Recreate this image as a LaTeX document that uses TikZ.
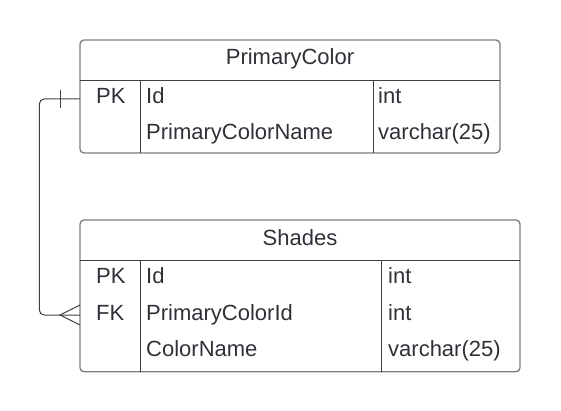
\documentclass[tikz,border=0pt]{standalone}
\usepackage{fontspec}
\setmainfont{Liberation Sans}
\definecolor{txt}{HTML}{2E3238}
\definecolor{frame}{HTML}{7A7C80}
\definecolor{inner}{HTML}{3C4148}
\tikzset{
  tablebox/.style={draw=frame, line width=1.3pt, rounded corners=4pt},
  innerline/.style={draw=inner, line width=1pt},
  cell/.style={anchor=base west, inner sep=0pt, text=txt, font=\fontsize{22}{26}\selectfont},
  title/.style={anchor=base, inner sep=0pt, text=txt, font=\fontsize{22}{26}\selectfont},
  rel/.style={draw=inner, line width=1pt},
}
\begin{document}
\begin{tikzpicture}[x=1pt,y=-1pt]
\useasboundingbox (0,0) rectangle (561,411);
% ---- Table PrimaryColor
\draw[tablebox] (80,40) rectangle (500,153);
\draw[innerline] (80,80.7) -- (500,80.7);
\draw[innerline] (140.7,80.7) -- (140.7,153);
\draw[innerline] (373,80.7) -- (373,153);
\node[title] (t1) at (290,65) {PrimaryColor};
\node[cell] (t1pk) at (96,103.3) {PK};
\node[cell] (t1id) at (146,103.3) {Id};
\node[cell] (t1idt) at (378,103.3) {int};
\node[cell] (t1name) at (146,140) {PrimaryColorName};
\node[cell] (t1namet) at (378,140) {varchar(25)};
% ---- Table Shades
\draw[tablebox] (80,220) rectangle (520,371.7);
\draw[innerline] (80,260.7) -- (520,260.7);
\draw[innerline] (140.7,260.7) -- (140.7,371.7);
\draw[innerline] (381.7,260.7) -- (381.7,371.7);
\node[title] (t2) at (300,245) {Shades};
\node[cell] (t2pk) at (96,283.3) {PK};
\node[cell] (t2id) at (146,283.3) {Id};
\node[cell] (t2idt) at (388,283.3) {int};
\node[cell] (t2fk) at (96,320) {FK};
\node[cell] (t2fkn) at (146,320) {PrimaryColorId};
\node[cell] (t2fkt) at (388,320) {int};
\node[cell] (t2cn) at (146,356.7) {ColorName};
\node[cell] (t2cnt) at (388,356.7) {varchar(25)};
% ---- Relationship
\coordinate (a) at (80,99);
\coordinate (b) at (80,315);
\coordinate (bu) at (80,305);
\coordinate (bd) at (80,325);
\coordinate (apex) at (60,315);
\coordinate (tk1) at (60,90);
\coordinate (tk2) at (60,108.3);
\draw[rel, rounded corners=5pt] (a) -- (39.3,99) -- (39.3,315) -- (b);
\draw[rel] (tk1) -- (tk2);
\draw[rel] (bu) -- (apex) -- (bd);
\end{tikzpicture}
\end{document}
